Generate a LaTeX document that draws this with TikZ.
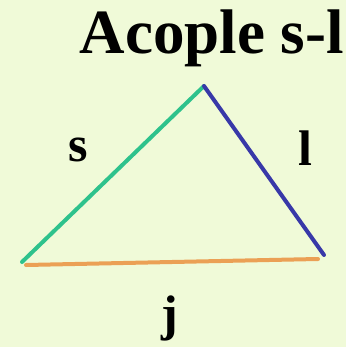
\documentclass[tikz,border=0pt]{standalone}
\usepackage{fontspec}
\setmainfont{Liberation Serif}
\usetikzlibrary{positioning}

\definecolor{bgpaper}{HTML}{F0FAD8}
\definecolor{sline}{HTML}{2EC28C}
\definecolor{lline}{HTML}{3838A8}
\definecolor{jline}{HTML}{EBA055}

\begin{document}
\begin{tikzpicture}[
    x=1pt, y=-1pt,
    side/.style={line width=4pt, line cap=round},
    lab/.style={font=\fontsize{50}{50}\selectfont\bfseries, inner sep=0pt}]

% --- background and frame
\fill[bgpaper] (0,0) rectangle (346,347);
\useasboundingbox (0,0) rectangle (346,347);

% --- title
\node[font=\fontsize{63}{63}\selectfont\bfseries, anchor=base east, inner sep=0pt] (title)
    at (344,54) {Acople s-l};

% --- triangle corners
\coordinate (top) at (204,86);
\coordinate (left) at (22,262);
\coordinate (right) at (324,255);
\coordinate (jleft) at (26,265);
\coordinate (jright) at (318,259);

\draw[side, sline] (left) -- (top);
\draw[side, lline] (top) -- (right);
\draw[side, jline] (jleft) -- (jright);

% --- labels
\node[lab] (s) at (78,150) {s};
\node[lab] (l) at (305,148) {l};
\node[lab] (j) at (170,318) {j};
\end{tikzpicture}
\end{document}
